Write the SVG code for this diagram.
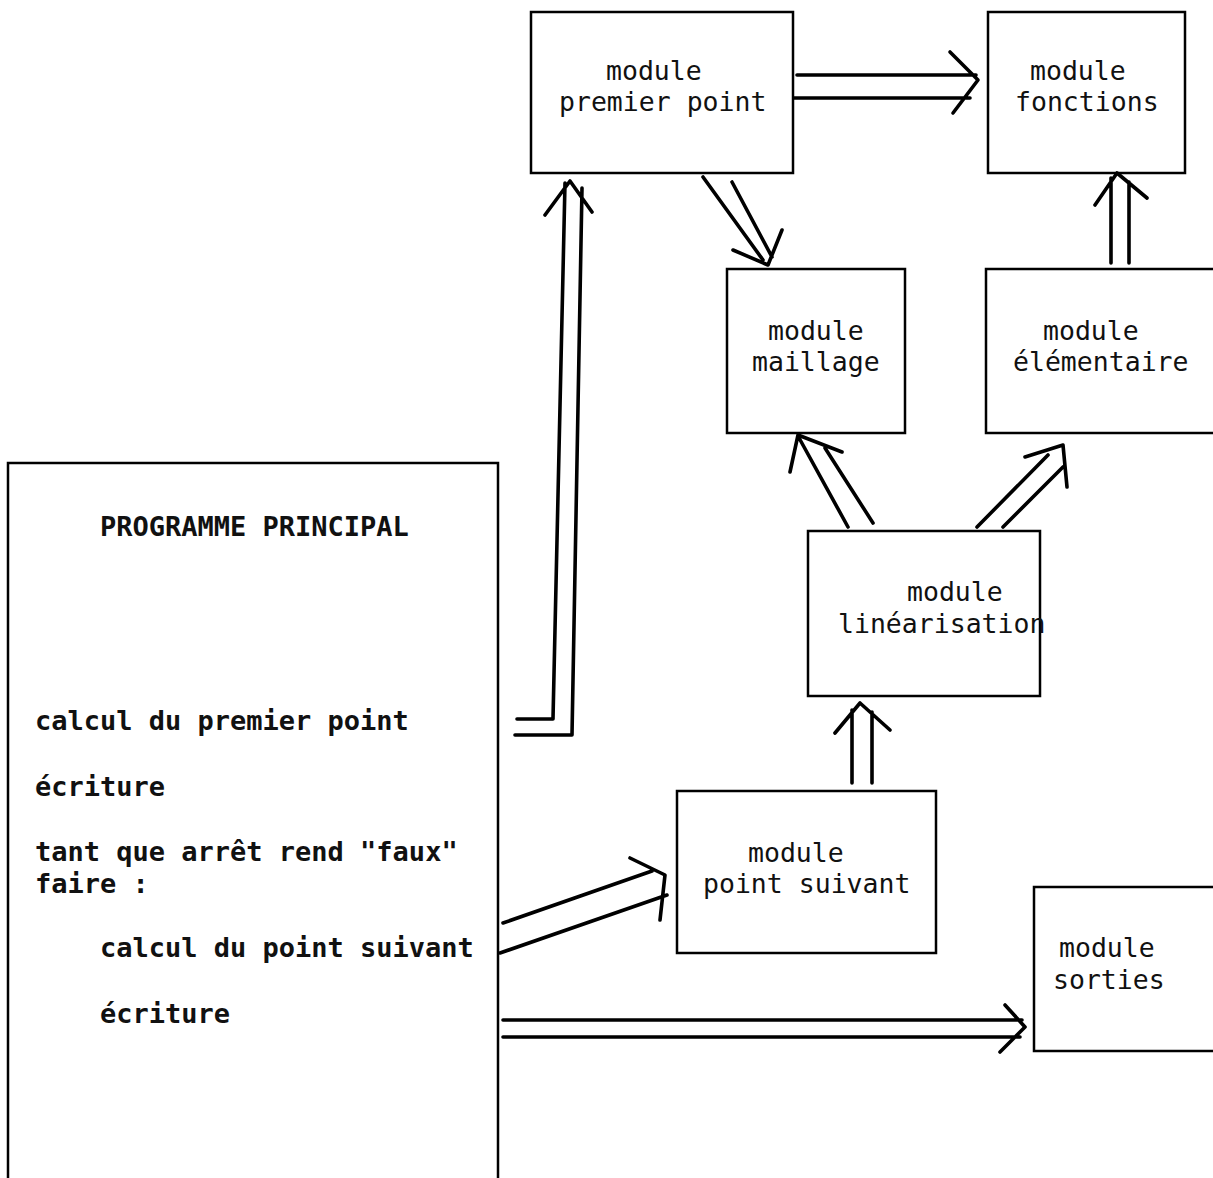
<svg xmlns="http://www.w3.org/2000/svg" width="1213" height="1178" viewBox="0 0 1213 1178">
<style>
.box{fill:none;stroke:#000;stroke-width:2.5}
.t{font-family:"DejaVu Sans Mono","Liberation Mono",monospace;font-size:26.5px;fill:#111}
.tm{font-family:"DejaVu Sans Mono","Liberation Mono",monospace;font-size:27px;font-weight:bold;fill:#111}
.c{fill:none;stroke:#000;stroke-width:3.6;stroke-linecap:round;stroke-linejoin:round}
</style>
<rect width="1213" height="1178" fill="#fff"/>
<g id="main">
<path class="box" d="M8,1180 V463 H498 V1180"/>
<text class="tm" x="100" y="536">PROGRAMME PRINCIPAL</text>
<text class="tm" x="35" y="730">calcul du premier point</text>
<text class="tm" x="35" y="796">écriture</text>
<text class="tm" x="35" y="861">tant que arrêt rend "faux"</text>
<text class="tm" x="35" y="893">faire :</text>
<text class="tm" x="100" y="957">calcul du point suivant</text>
<text class="tm" x="100" y="1023">écriture</text>
</g>
<g id="premier">
<rect class="box" x="531" y="12" width="262" height="161"/>
<text class="t" x="606" y="80">module</text>
<text class="t" x="559" y="111">premier point</text>
</g>
<g id="fonctions">
<rect class="box" x="988" y="12" width="197" height="161"/>
<text class="t" x="1030" y="80">module</text>
<text class="t" x="1015" y="111">fonctions</text>
</g>
<g id="maillage">
<rect class="box" x="727" y="269" width="178" height="164"/>
<text class="t" x="768" y="340">module</text>
<text class="t" x="752" y="371">maillage</text>
</g>
<g id="elementaire">
<rect class="box" x="986" y="269" width="240" height="164"/>
<text class="t" x="1043" y="340">module</text>
<text class="t" x="1013" y="371">élémentaire</text>
</g>
<g id="linearisation">
<rect class="box" x="808" y="531" width="232" height="165"/>
<text class="t" x="907" y="601">module</text>
<text class="t" x="838" y="633">linéarisation</text>
</g>
<g id="pointsuivant">
<rect class="box" x="677" y="791" width="259" height="162"/>
<text class="t" x="748" y="862">module</text>
<text class="t" x="703" y="893">point suivant</text>
</g>
<g id="sorties">
<rect class="box" x="1034" y="887" width="190" height="164"/>
<text class="t" x="1059" y="957">module</text>
<text class="t" x="1053" y="989">sorties</text>
</g>
<g id="connectors">
<path class="c" d="M797,75 H976 M794,98 H970 M950,52 L978,80 L953,113"/>
<path class="c" d="M703,177 L763,260 M732,182 L772,257 M733,250 L768,265 L782,230"/>
<path class="c" d="M517,719 H553 L565,183 M515,735 H572 L582,188 M545,215 L570,181 L592,212"/>
<path class="c" d="M848,527 L798,436 M873,523 L825,448 M790,472 L798,435 L842,452"/>
<path class="c" d="M977,527 L1048,455 M1003,527 L1063,467 M1025,457 L1063,445 L1067,487"/>
<path class="c" d="M1111,263 V178 M1129,263 V182 M1095,205 L1117,173 L1147,198"/>
<path class="c" d="M852,783 V710 M872,783 V712 M835,733 L860,703 L890,730"/>
<path class="c" d="M503,923 L652,871 M500,953 L667,895 M630,858 L665,875 L660,920"/>
<path class="c" d="M503,1020 H1022 M503,1037 H1020 M1005,1005 L1025,1027 L1000,1052"/>
</g>
</svg>
